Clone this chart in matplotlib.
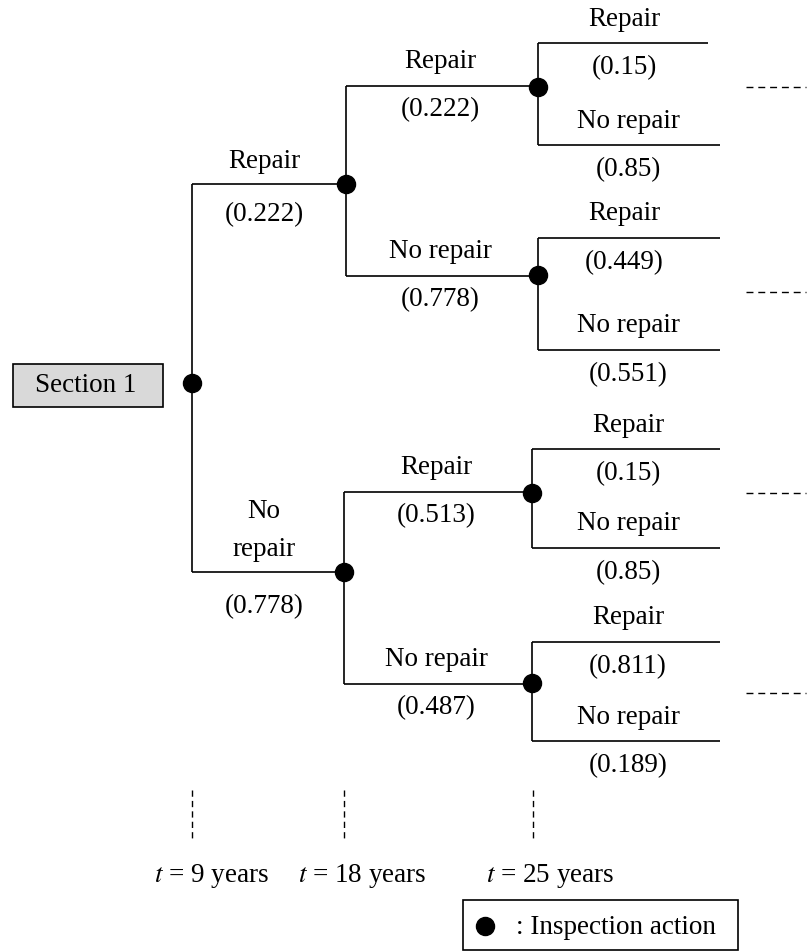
import matplotlib
matplotlib.use("Agg")
import matplotlib.pyplot as plt
from matplotlib.patches import Rectangle

# ---- data ----
root_label = "Section 1"
branch_labels = ["Repair", "No repair"]
level1_probs = [0.222, 0.778]
level2_probs = [[0.222, 0.778], [0.513, 0.487]]
level3_probs = [[0.15, 0.85], [0.449, 0.551], [0.15, 0.85], [0.811, 0.189]]
times = [9, 18, 25]
legend_text = ": Inspection action"

W, H = 809, 951
fig = plt.figure(figsize=(W / 100, H / 100), dpi=100)
ax = fig.add_axes([0, 0, 1, 1])
ax.set_xlim(0, W)
ax.set_ylim(H, 0)
ax.axis("off")

FONT = "Liberation Serif"
FS = 19.5
LW = 1.2
MS = 13

def txt(x, y, s, **kw):
    ax.text(x, y, s, ha="center", va="center", fontsize=FS, family=FONT, **kw)

def node(x, y):
    ax.plot([x], [y], "o", color="black", ms=MS, zorder=5)

def line(xs, ys, **kw):
    ax.plot(xs, ys, color="black", lw=LW, solid_capstyle="butt", **kw)

def fmt(p):
    return f"({p:g})"

# root box
ax.add_patch(Rectangle((13, 364), 150, 43, facecolor="#d9d9d9", edgecolor="black", lw=LW))
txt(86, 385, root_label)

# level 1
x0 = 192
y1 = [184, 572]
x1 = [346, 344]
line([x0, x0], [y1[0], y1[1]])
node(x0, 383)
for i in range(2):
    line([x0, x1[i]], [y1[i], y1[i]])
txt(264, 161, "Repair")
txt(264, 215, fmt(level1_probs[0]))
txt(264, 512, "No")
txt(264, 550, "repair")
txt(264, 607, fmt(level1_probs[1]))

# level 2
y2 = [[86, 276], [492, 684]]
x2 = [538, 532]
for i in range(2):
    line([x1[i], x1[i]], [y2[i][0], y2[i][1]])
    node(x1[i], y1[i])
    cx = (x1[i] + x2[i]) / 2 - 2
    for j in range(2):
        line([x1[i], x2[i]], [y2[i][j], y2[i][j]])
        txt(cx, y2[i][j] - 24, branch_labels[j])
        txt(cx, y2[i][j] + 24, fmt(level2_probs[i][j]))

# level 3
y3 = [[43, 145], [238, 350], [449, 548], [642, 741]]
node3 = [87, 275, 493, 683]
xl3 = [538, 538, 532, 532]
dash_y = [87, 292, 493, 693]
for k in range(4):
    xs = xl3[k]
    line([xs, xs], [y3[k][0], y3[k][1]])
    node(xs, node3[k])
    for j in range(2):
        xe = 708 if (k == 0 and j == 0) else 720
        line([xs, xe], [y3[k][j], y3[k][j]])
        cx = 624 if j == 0 and k < 2 else 628
        txt(cx, y3[k][j] - 24, branch_labels[j])
        txt(cx, y3[k][j] + 25, fmt(level3_probs[k][j]))
    ax.plot([746, 806], [dash_y[k], dash_y[k]], color="black", lw=1.0, ls=(0, (5, 3.5)))

# time markers
tx = [192, 344, 533]
tlx = [212, 362, 550]
for i, t in enumerate(times):
    ax.plot([tx[i], tx[i]], [790, 838], color="black", lw=1.0, ls=(0, (4.5, 3)))
    ax.text(tlx[i], 876, f"$\\mathit{{t}}$ = {t} years", ha="center", va="center",
            fontsize=FS, family=FONT, math_fontfamily="stix")

# legend
ax.add_patch(Rectangle((463, 900), 275, 50, facecolor="white", edgecolor="black", lw=LW))
node(485, 926)
ax.text(516, 927, legend_text, ha="left", va="center", fontsize=FS, family=FONT)

fig.savefig("out.png", dpi=100)
